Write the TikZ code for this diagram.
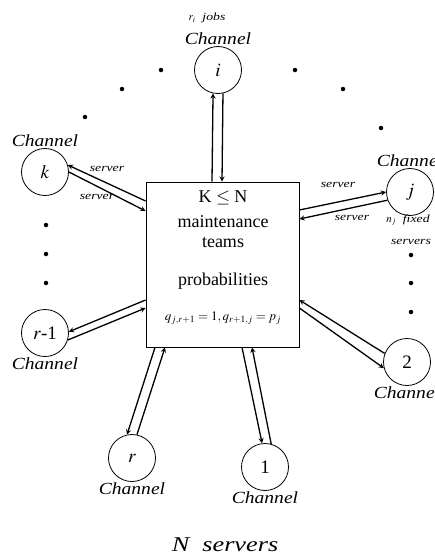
\documentclass[tikz,border=0pt]{standalone}
\usepackage{mathptmx}
\usepackage{fontspec}
\setmainfont{Liberation Serif}
\newfontfamily\wideit[FakeStretch=1.15]{Liberation Serif Italic}
\newfontfamily\widerit[FakeStretch=1.25]{Liberation Serif Italic}
\usetikzlibrary{arrows}
\tikzstyle{chan}=[circle, draw, minimum size=47pt, inner sep=0pt,% channel circles
line width=0.8pt, font=\fontsize{19}{21}\selectfont]
\tikzstyle{chlbl}=[font=\fontsize{17}{19}\selectfont\wideit, inner sep=1pt]
\tikzstyle{small}=[font=\fontsize{11}{13}\selectfont\widerit, inner sep=0pt]
\tikzstyle{boxtxt}=[font=\fontsize{18}{20}\selectfont, inner sep=0pt]
\tikzstyle{dotblk}=[circle, fill=black, inner sep=0pt, minimum size=4.5pt]
\tikzstyle{link}=[->, >=stealth, line width=1.3pt]

\begin{document}
\begin{tikzpicture}[x=1pt,y=-1pt]
\useasboundingbox (0,0) rectangle (435,555);
\node[draw, line width=0.8pt, minimum width=153pt, minimum height=165pt, inner sep=0pt] (box) at (222.5,264.5) {};
\node[boxtxt] (kn) at (223,198) {K $\leq$ N};
\node[boxtxt] (mt) at (223,222) {maintenance};
\node[boxtxt] (tm) at (223,243) {teams};
\node[boxtxt] (pr) at (223,281) {probabilities};
\node[font=\fontsize{13}{15}\selectfont, inner sep=0pt] (qf) at (223,318) {$q_{j,r+1}=1, q_{r+1,j}=p_j$};
\node[chan,label={[chlbl]above:Channel}] (ci) at (218,70) {$i$};
\node[chan,label={[chlbl]above:Channel}] (ck) at (45,172) {$k$};
\node[chan,label={[chlbl]above:Channel}] (cj) at (410,192) {$j$};
\node[chan,label={[chlbl]below:Channel}] (crm) at (45,333) {$r$-1};
\node[chan,label={[chlbl]below:Channel}] (c2) at (407,362) {2};
\node[chan,label={[chlbl]below:Channel}] (cr) at (132,458) {$r$};
\node[chan,label={[chlbl]below:Channel}] (c1) at (265,467) {1};
\node[small] (jobs) at (207,18) {$r_i$\ \ jobs};
\node[small] (nfix) at (408,220) {$n_j$\ \ fixed};
\node[small] (nsrv) at (411,242) {servers};
\node[small] (sk1) at (107,169) {server};
\node[small] (sk2) at (97,197) {server};
\node[small] (sj1) at (338,185) {server};
\node[small] (sj2) at (352,218) {server};
\node[font=\fontsize{21}{23}\selectfont\widerit, inner sep=0pt] (nserv) at (225,545) {N\ \ servers};
\node[dotblk] (d1) at (85,117) {};
\node[dotblk] (d2) at (122,89) {};
\node[dotblk] (d3) at (161,70) {};
\node[dotblk] (d4) at (295,70) {};
\node[dotblk] (d5) at (343,89) {};
\node[dotblk] (d6) at (381,128) {};
\node[dotblk] (d7) at (46,225) {};
\node[dotblk] (d8) at (46,254) {};
\node[dotblk] (d9) at (46,283) {};
\node[dotblk] (d10) at (411,255) {};
\node[dotblk] (d11) at (411,283) {};
\node[dotblk] (d12) at (411,312) {};
\draw[link] ([xshift=-10.5pt]box.north) -- (ci.-102);
\draw[link] (ci.-78) -- ([xshift=-0.5pt]box.north);
\draw[link] ([yshift=63.5pt]box.west) -- (ck.17);
\draw[link] (ck.0) -- ([yshift=53.5pt]box.west);
\draw[link] ([yshift=54.5pt]box.east) -- (cj.180);
\draw[link] (cj.200) -- ([yshift=45.5pt]box.east);
\draw[link] ([yshift=-35.5pt]box.west) -- (crm.3);
\draw[link] (crm.-17) -- ([yshift=-43.5pt]box.west);
\draw[link] (c2.159) -- ([yshift=-35.5pt]box.east);
\draw[link] ([yshift=-43.5pt]box.east) -- (c2.195);
\draw[link] ([xshift=-67.5pt]box.south) -- (cr.102);
\draw[link] (cr.78) -- ([xshift=-57.5pt]box.south);
\draw[link] ([xshift=19.5pt]box.south) -- (c1.97);
\draw[link] (c1.75) -- ([xshift=29.5pt]box.south);
\end{tikzpicture}
\end{document}
